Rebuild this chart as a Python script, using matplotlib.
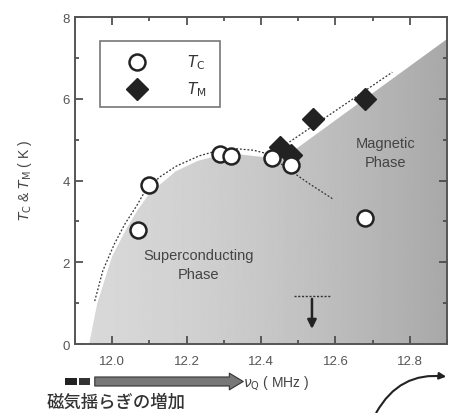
import numpy as np
import matplotlib
matplotlib.use("Agg")
import matplotlib.pyplot as plt
from matplotlib.patches import Polygon, Rectangle, FancyArrowPatch
from matplotlib.ticker import MultipleLocator

plt.rcParams['font.family'] = ['Liberation Sans', 'Noto Sans CJK JP', 'DejaVu Sans']

# data
tc_nu = [12.07, 12.10, 12.29, 12.32, 12.43, 12.48, 12.68]
tc_T = [2.78, 3.88, 4.65, 4.60, 4.55, 4.38, 3.08]
tm_nu = [12.45, 12.48, 12.54, 12.68]
tm_T = [4.82, 4.62, 5.50, 6.00]

# guide curves
dome_nu = [11.953, 11.975, 12.007, 12.035, 12.065, 12.092, 12.13, 12.172, 12.233, 12.287, 12.33, 12.38, 12.415, 12.47, 12.53, 12.593]
dome_T = [1.05, 1.80, 2.47, 2.95, 3.37, 3.80, 4.10, 4.35, 4.60, 4.74, 4.78, 4.74, 4.66, 4.30, 3.92, 3.55]
mag_nu = [12.468, 12.753]
mag_T = [4.89, 6.65]

shade_nu = [11.938, 11.96, 12.0, 12.04, 12.07, 12.1, 12.17, 12.23, 12.29, 12.34, 12.40, 12.45, 12.9, 12.9]
shade_T = [0.0, 1.0, 2.15, 2.85, 3.30, 3.68, 4.22, 4.48, 4.62, 4.64, 4.58, 4.48, 7.46, 0.0]

fig = plt.figure(figsize=(4.5, 4.14), dpi=100)
ax = fig.add_axes([75/450, 1-345/414, 372/450, 327/414])
ax.set_xlim(11.9, 12.9)
ax.set_ylim(0, 8)

# gradient shading
poly = Polygon(list(zip(shade_nu, shade_T)), closed=True, facecolor='none', edgecolor='none')
ax.add_patch(poly)
xs = np.linspace(0, 1, 256)
grad = 0.85 - 0.19 * xs**1.5
img = ax.imshow(grad[None, :], extent=[11.9, 12.9, 0, 8], aspect='auto', cmap='gray',
                vmin=0, vmax=1, zorder=0, interpolation='bilinear')
img.set_clip_path(poly)

ax.plot(dome_nu, dome_T, ls=(0, (1.5, 1.5)), color='#333333', lw=0.9, zorder=2)
ax.plot(mag_nu, mag_T, ls=(0, (1.5, 1.5)), color='#333333', lw=0.9, zorder=2)

ax.plot(tm_nu, tm_T, ls='none', marker='D', ms=11.5, color='#222222', zorder=3)
ax.plot(tc_nu, tc_T, ls='none', marker='o', ms=11.5, mfc='white', mec='#222222', mew=1.8, zorder=4)

# arrow in superconducting region
ax.plot([12.49, 12.585], [1.17, 1.17], ls=(0, (1.5, 1.2)), color='#333333', lw=1.0)
ax.annotate('', xy=(12.537, 0.3), xytext=(12.537, 1.17),
            arrowprops=dict(arrowstyle='-|>', color='#222222', lw=1.8, mutation_scale=13))

ax.text(12.233, 1.95, 'Superconducting\nPhase', ha='center', va='center', fontsize=10.5,
        color='#444444', linespacing=1.5)
ax.text(12.735, 4.68, 'Magnetic\nPhase', ha='center', va='center', fontsize=10.5,
        color='#444444', linespacing=1.5)

# legend
ax.add_patch(Rectangle((0.067, 0.725), 0.323, 0.202, transform=ax.transAxes,
                       facecolor='white', edgecolor='#777777', lw=1.2, zorder=5))
ax.plot([0.167], [0.862], transform=ax.transAxes, marker='o', ms=11.5, mfc='white',
        mec='#222222', mew=1.8, zorder=6)
ax.plot([0.167], [0.78], transform=ax.transAxes, marker='D', ms=11.5, color='#222222', zorder=6)
ax.text(0.30, 0.862, r'$T_{\rm C}$', transform=ax.transAxes, fontsize=11, va='center',
        ha='left', color='#333333', zorder=6)
ax.text(0.30, 0.78, r'$T_{\rm M}$', transform=ax.transAxes, fontsize=11, va='center',
        ha='left', color='#333333', zorder=6)

# axes styling
ax.xaxis.set_major_locator(MultipleLocator(0.2))
ax.xaxis.set_minor_locator(MultipleLocator(0.1))
ax.yaxis.set_major_locator(MultipleLocator(2))
ax.yaxis.set_minor_locator(MultipleLocator(1))
ax.set_xticks([12.0, 12.2, 12.4, 12.6, 12.8])
ax.set_xticklabels(['12.0', '12.2', '12.4', '12.6', '12.8'])
ax.tick_params(which='both', direction='in', top=True, right=True, colors='#444444',
               labelcolor='#555555', labelsize=9.5)
ax.tick_params(which='major', length=6, width=1.2)
ax.tick_params(which='minor', length=3, width=1.2)
ax.tick_params(axis='x', pad=8)
for s in ax.spines.values():
    s.set_color('#555555')
    s.set_linewidth(1.4)

fig.text(25/450, 1-180/414, r'$T_{\rm C}$ & $T_{\rm M}$ ( K )', rotation=90, ha='center',
         va='center', fontsize=10, color='#444444')

# bottom arrow bar
fig.patches.append(Rectangle((65/450, 1-386/414), 12/450, 7/414, transform=fig.transFigure,
                             facecolor='#222222', edgecolor='none'))
fig.patches.append(Rectangle((79/450, 1-386/414), 11/450, 7/414, transform=fig.transFigure,
                             facecolor='#333333', edgecolor='none'))
fig.patches.append(FancyArrowPatch((92/450, 1-382.5/414), (246/450, 1-382.5/414),
                                   transform=fig.transFigure,
                                   arrowstyle='simple,head_width=1.2,head_length=1.0,tail_width=0.65',
                                   mutation_scale=10, facecolor='#777777', edgecolor='#333333',
                                   lw=0.8))
fig.text(116/450, 1-403/414, '磁気揺らぎの増加', ha='center', va='center', fontsize=12.5,
         color='#333333', fontweight='medium', family=['Noto Sans CJK JP', 'DejaVu Sans'])
fig.text(276/450, 1-383/414, r'$\nu_{\rm Q}$ ( MHz )', ha='center', va='center', fontsize=10,
         color='#444444')

# curved arrow
fig.patches.append(FancyArrowPatch((375/450, 1-416/414), (449/450, 1-378/414),
                                   transform=fig.transFigure, connectionstyle='arc3,rad=-0.35',
                                   arrowstyle='-|>', mutation_scale=10, color='#222222', lw=1.5))

fig.savefig('out.png', dpi=100)
